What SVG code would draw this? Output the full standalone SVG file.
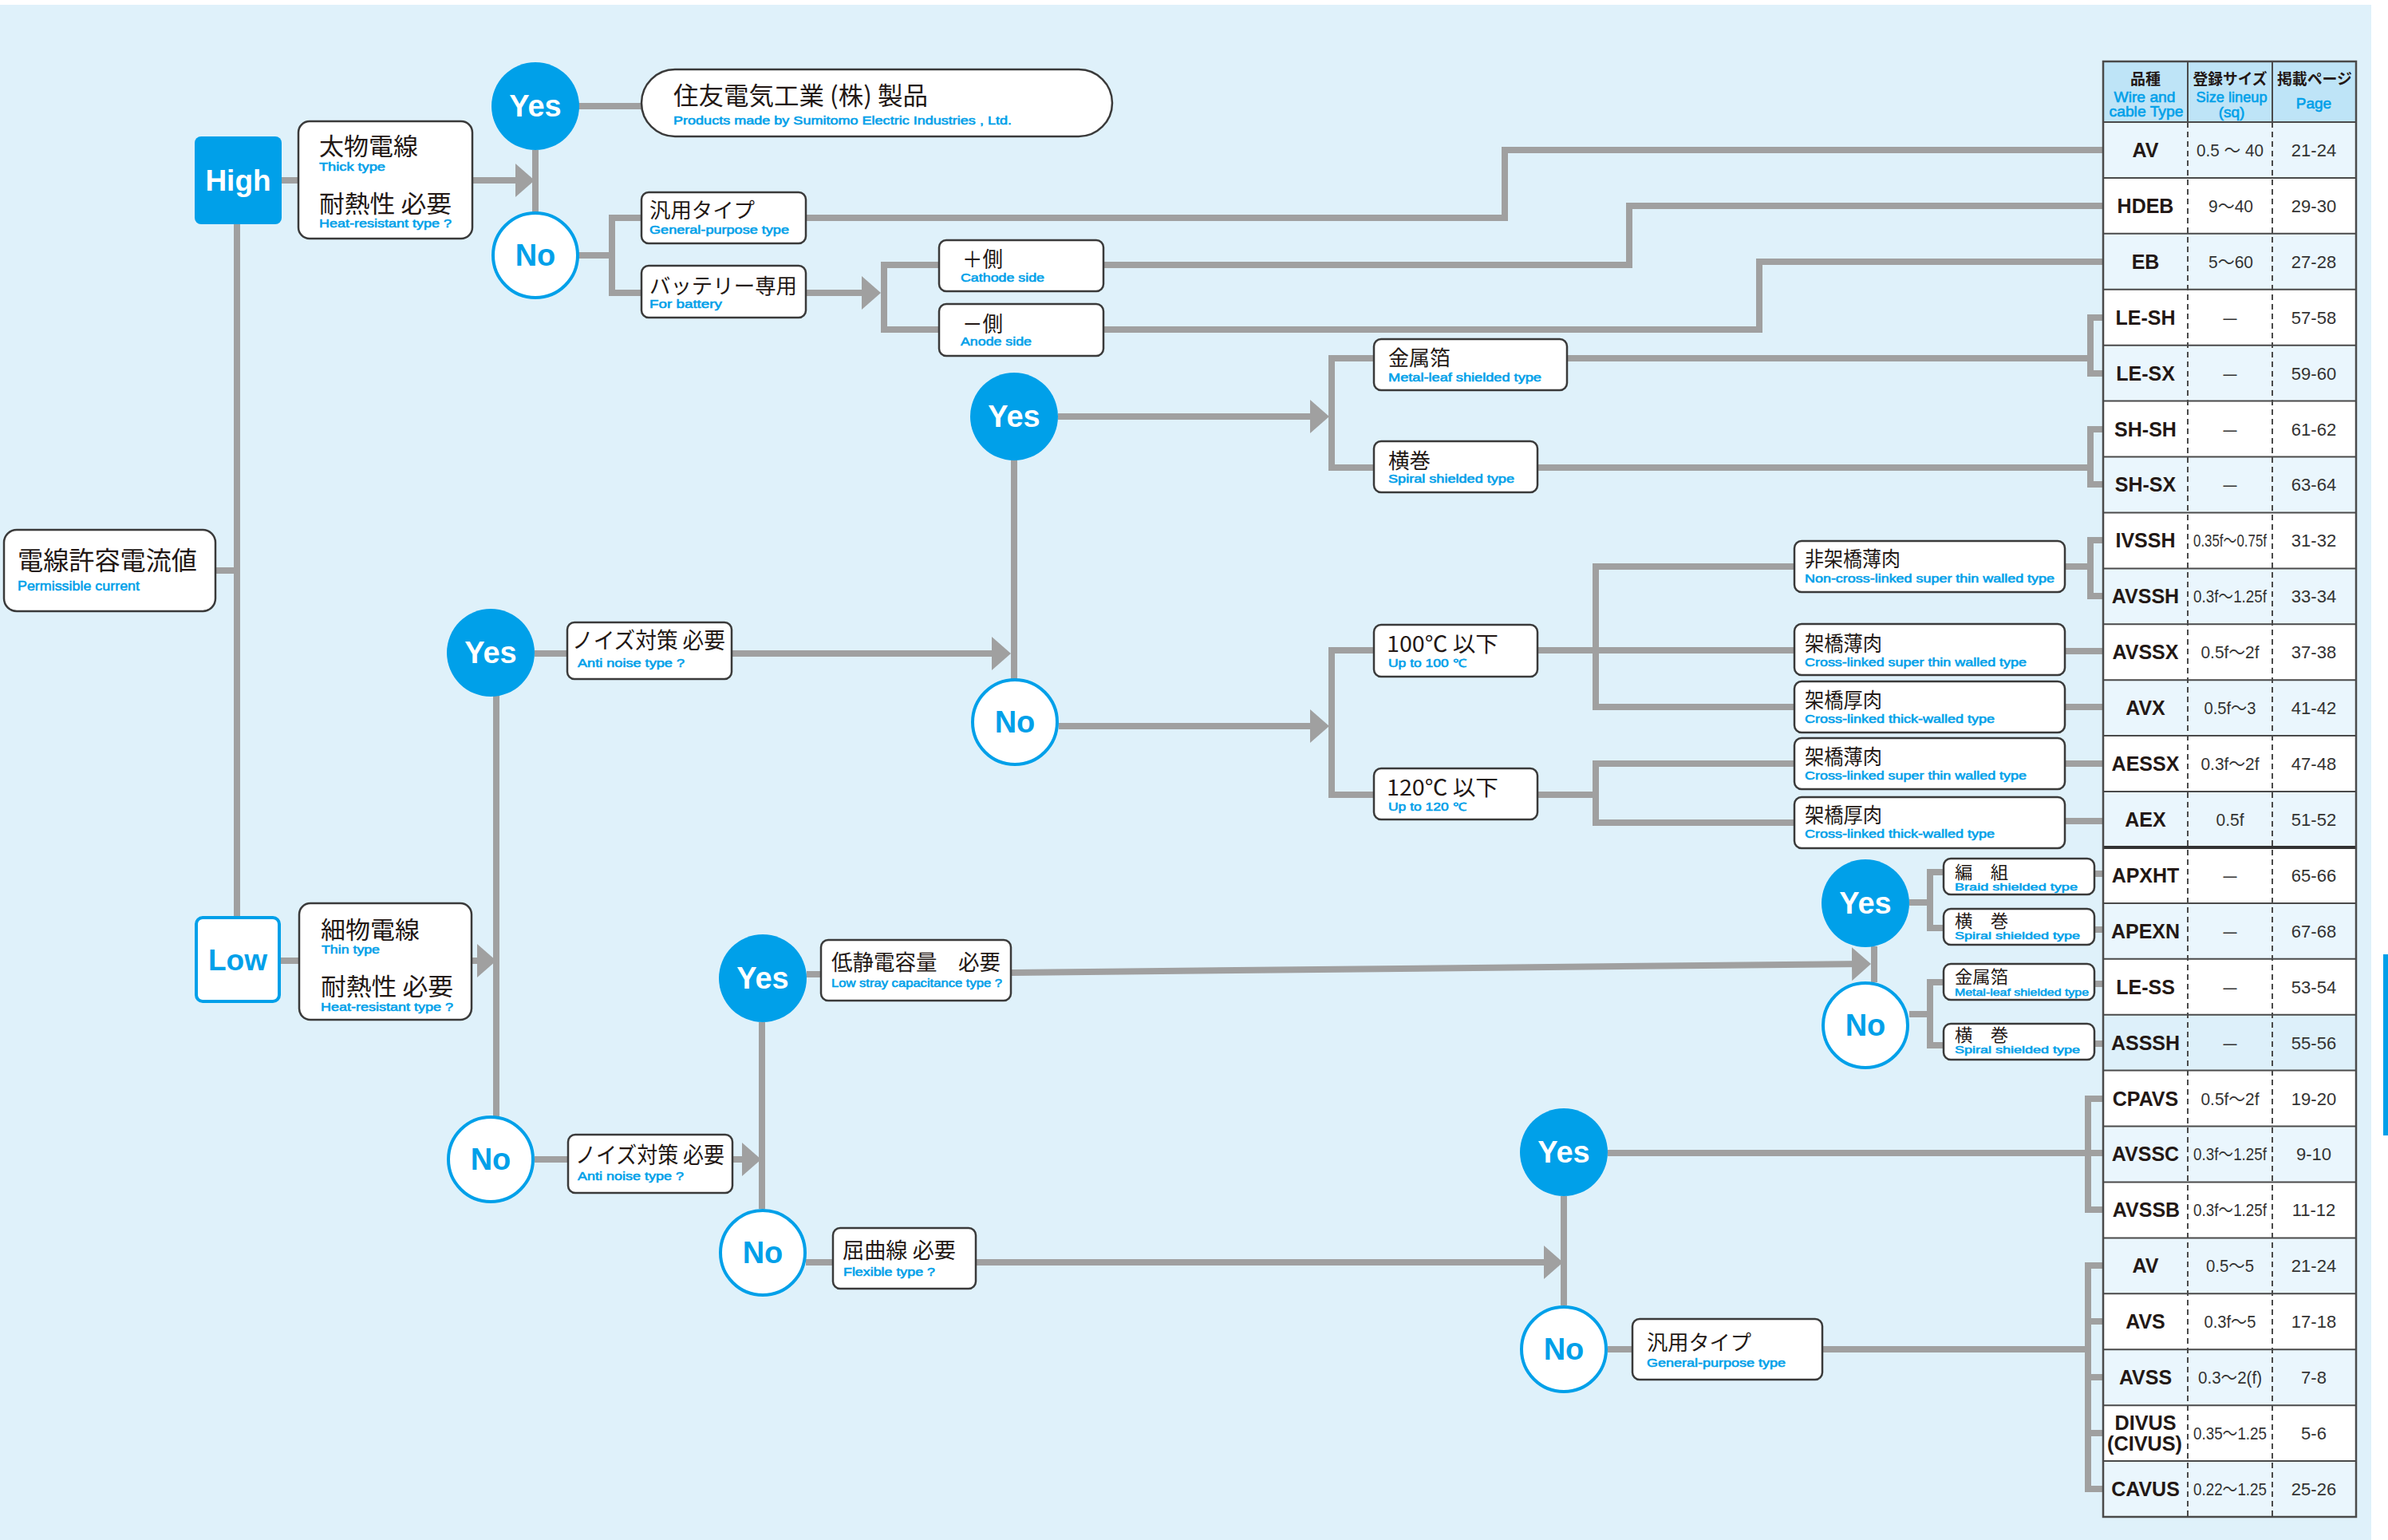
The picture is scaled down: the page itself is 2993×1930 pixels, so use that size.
<svg xmlns="http://www.w3.org/2000/svg" width="2993" height="1930" viewBox="0 0 2993 1930">
<defs>
<style>
.c{fill:none;stroke:#A0A0A0;stroke-width:8}
.box{fill:#fff;stroke:#3a3a3a;stroke-width:2.5}
.jp{font-family:"Noto Sans CJK JP","Noto Sans CJK SC",sans-serif;fill:#231815}
.en{font-family:"Liberation Sans",Arial,sans-serif;fill:#00A0E9;stroke:#00A0E9;stroke-width:0.55}
.yes{fill:#00A0E9}
.no{fill:#fff;stroke:#00A0E9;stroke-width:4}
.yt{font-family:"Liberation Sans",Arial,sans-serif;font-weight:bold;font-size:38px;fill:#fff;text-anchor:middle}
.nt{font-family:"Liberation Sans",Arial,sans-serif;font-weight:bold;font-size:38px;fill:#00A0E9;text-anchor:middle}
.tl{font-family:"Liberation Sans",Arial,sans-serif;font-weight:bold;font-size:25px;fill:#231815;text-anchor:middle}
.tv{font-family:"Liberation Sans","Noto Sans CJK JP",sans-serif;font-size:22px;fill:#333;text-anchor:middle}
.hj{font-family:"Noto Sans CJK JP",sans-serif;font-weight:bold;font-size:19px;fill:#231815;text-anchor:middle}
.he{font-family:"Liberation Sans",Arial,sans-serif;font-size:19px;fill:#00A0E9;stroke:#00A0E9;stroke-width:0.6;text-anchor:middle}
.rl{fill:#EAF6FD}
.rw{fill:#fff}
.hl{stroke:#4a4a4a;stroke-width:2}
.dl{stroke:#4a4a4a;stroke-width:2;stroke-dasharray:7 5}
</style>
<marker id="ah" markerUnits="userSpaceOnUse" markerWidth="24" markerHeight="42" refX="14" refY="21" orient="auto"><path d="M0,0 L24,21 L0,42 z" fill="#A0A0A0"/></marker>
</defs>
<rect x="0" y="0" width="2993" height="1930" fill="#fff"/>
<rect x="0" y="6" width="2972" height="1924" fill="#DFF1FA"/>
<rect x="2987" y="1196" width="6" height="227" fill="#00A0E9"/>

<g id="connectors">
<path class="c" d="M270,715 H297 M297,281 V1148 M353,226 H374"/>
<path class="c" d="M592,226 H660" marker-end="url(#ah)"/>
<path class="c" d="M671,188 V266 M725,133 H804 M725,320 H767 M804,273 H767 V367 H804"/>
<path class="c" d="M1010,273 H1886 V188 H2636"/>
<path class="c" d="M1010,367 H1094" marker-end="url(#ah)"/>
<path class="c" d="M1177,332 H1108 V413 H1177"/>
<path class="c" d="M1383,332 H2042 V258 H2636"/>
<path class="c" d="M1383,413 H2205 V328 H2636"/>
<path class="c" d="M352,1204 H375"/>
<path class="c" d="M591,1204 H612" marker-end="url(#ah)"/>
<path class="c" d="M622,872 V1399 M670,819 H711"/>
<path class="c" d="M917,819 H1257" marker-end="url(#ah)"/>
<path class="c" d="M1271,576 V851"/>
<path class="c" d="M1326,522 H1656" marker-end="url(#ah)"/>
<path class="c" d="M1722,449 H1669 V586 H1722"/>
<path class="c" d="M1964,449 H2620 M2636,398 H2620 V468 H2636"/>
<path class="c" d="M1927,586 H2620 M2636,538 H2620 V607 H2636"/>
<path class="c" d="M1327,910 H1656" marker-end="url(#ah)"/>
<path class="c" d="M1722,815 H1669 V996 H1722"/>
<path class="c" d="M1927,815 H2249 M2249,710 H2000 V886 H2249"/>
<path class="c" d="M1927,996 H2000 M2249,957 H2000 V1031 H2249"/>
<path class="c" d="M2588,710 H2620 M2636,677 H2620 V747 H2636"/>
<path class="c" d="M2588,816 H2636 M2588,886 H2636 M2588,957 H2636 M2588,1029 H2636"/>
<path class="c" d="M670,1453 H712"/>
<path class="c" d="M918,1453 H944" marker-end="url(#ah)"/>
<path class="c" d="M955,1281 V1515 M1011,1221 H1029"/>
<path class="c" d="M1267,1219 L2335,1208" marker-end="url(#ah)"/>
<path class="c" d="M2349,1186 V1231"/>
<path class="c" d="M2393,1131 H2419 M2436,1093 H2419 V1163 H2436 M2625,1095 H2636 M2625,1165 H2636"/>
<path class="c" d="M2393,1271 H2419 M2436,1231 H2419 V1310 H2436 M2625,1233 H2636 M2625,1308 H2636"/>
<path class="c" d="M1010,1582 H1044"/>
<path class="c" d="M1223,1582 H1949" marker-end="url(#ah)"/>
<path class="c" d="M1960,1499 V1636"/>
<path class="c" d="M2015,1445 H2636 M2636,1377 H2617 V1516 H2636"/>
<path class="c" d="M2015,1691 H2046 M2284,1691 H2617 M2636,1586 H2617 V1866 H2636 M2617,1656 H2636 M2617,1726 H2636 M2617,1796 H2636"/>
</g>

<g id="n-current">
<rect class="box" x="5" y="664" width="265" height="102" rx="16"/>
<text class="jp" x="22" y="714" font-size="32" textLength="225" lengthAdjust="spacingAndGlyphs">電線許容電流値</text>
<text class="en" x="22" y="740" font-size="17" textLength="153" lengthAdjust="spacingAndGlyphs">Permissible current</text>
</g>

<g id="n-high">
<rect x="244" y="171" width="109" height="110" rx="8" fill="#00A0E9"/>
<text x="298.5" y="239" font-family="Liberation Sans,Arial,sans-serif" font-weight="bold" font-size="37" fill="#fff" text-anchor="middle">High</text>
</g>

<g id="n-thick">
<rect x="374" y="152" width="218" height="147" rx="14" fill="#fff"/>
<path d="M388,152 H578 Q592,152 592,166 V226 H374 V166 Q374,152 388,152 Z" fill="#D4ECFA"/>
<rect class="box" x="374" y="152" width="218" height="147" rx="14" fill="none"/>
<text class="jp" x="400" y="194" font-size="30" textLength="124" lengthAdjust="spacingAndGlyphs">太物電線</text>
<text class="en" x="400" y="214" font-size="14" textLength="83" lengthAdjust="spacingAndGlyphs">Thick type</text>
<text class="jp" x="400" y="266" font-size="30" textLength="166" lengthAdjust="spacingAndGlyphs">耐熱性 必要</text>
<text class="en" x="400" y="285" font-size="14" textLength="166" lengthAdjust="spacingAndGlyphs">Heat-resistant type ?</text>
</g>

<g id="n-yes1"><circle class="yes" cx="671" cy="133" r="55"/><text class="yt" x="671" y="146">Yes</text></g>
<g id="n-no1"><circle class="no" cx="671" cy="320" r="53"/><text class="nt" x="671" y="333">No</text></g>

<g id="n-sumitomo">
<rect class="box" x="804" y="87" width="590" height="84" rx="42"/>
<text class="jp" x="844" y="131" font-size="31" textLength="319" lengthAdjust="spacingAndGlyphs">住友電気工業 (株) 製品</text>
<text class="en" x="844" y="156" font-size="14" textLength="424" lengthAdjust="spacingAndGlyphs">Products made by Sumitomo Electric Industries , Ltd.</text>
</g>

<g id="n-general1">
<rect class="box" x="804" y="241" width="206" height="64" rx="9"/>
<text class="jp" x="814" y="273" font-size="26" textLength="132" lengthAdjust="spacingAndGlyphs">汎用タイプ</text>
<text class="en" x="814" y="293" font-size="14" textLength="175" lengthAdjust="spacingAndGlyphs">General-purpose type</text>
</g>
<g id="n-battery">
<rect class="box" x="804" y="333" width="206" height="65" rx="9"/>
<text class="jp" x="814" y="368" font-size="26" textLength="185" lengthAdjust="spacingAndGlyphs">バッテリー専用</text>
<text class="en" x="814" y="386" font-size="14" textLength="91" lengthAdjust="spacingAndGlyphs">For battery</text>
</g>
<g id="n-cathode">
<rect class="box" x="1177" y="301" width="206" height="64" rx="9"/>
<text class="jp" x="1206" y="335" font-size="27" textLength="51" lengthAdjust="spacingAndGlyphs">＋側</text>
<text class="en" x="1204" y="353" font-size="14" textLength="105" lengthAdjust="spacingAndGlyphs">Cathode side</text>
</g>
<g id="n-anode">
<rect class="box" x="1177" y="381" width="206" height="65" rx="9"/>
<text class="jp" x="1206" y="416" font-size="27" textLength="51" lengthAdjust="spacingAndGlyphs">－側</text>
<text class="en" x="1204" y="433" font-size="14" textLength="89" lengthAdjust="spacingAndGlyphs">Anode side</text>
</g>

<g id="n-low">
<rect x="246" y="1150" width="104" height="105" rx="8" fill="#fff" stroke="#00A0E9" stroke-width="4"/>
<text x="298" y="1216" font-family="Liberation Sans,Arial,sans-serif" font-weight="bold" font-size="37" fill="#00A0E9" text-anchor="middle">Low</text>
</g>
<g id="n-thin">
<rect x="375" y="1132" width="216" height="146" rx="14" fill="#fff"/>
<path d="M389,1132 H577 Q591,1132 591,1146 V1206 H375 V1146 Q375,1132 389,1132 Z" fill="#D4ECFA"/>
<rect class="box" x="375" y="1132" width="216" height="146" rx="14" fill="none"/>
<text class="jp" x="402" y="1176" font-size="30" textLength="124" lengthAdjust="spacingAndGlyphs">細物電線</text>
<text class="en" x="403" y="1195" font-size="14" textLength="73" lengthAdjust="spacingAndGlyphs">Thin type</text>
<text class="jp" x="402" y="1247" font-size="30" textLength="166" lengthAdjust="spacingAndGlyphs">耐熱性 必要</text>
<text class="en" x="402" y="1267" font-size="14" textLength="166" lengthAdjust="spacingAndGlyphs">Heat-resistant type ?</text>
</g>

<g id="n-yes2"><circle class="yes" cx="615" cy="818" r="55"/><text class="yt" x="615" y="831">Yes</text></g>
<g id="n-no2"><circle class="no" cx="615" cy="1453" r="53"/><text class="nt" x="615" y="1466">No</text></g>

<g id="n-noise1">
<rect class="box" x="711" y="780" width="206" height="71" rx="9"/>
<text class="jp" x="717" y="813" font-size="28" textLength="192" lengthAdjust="spacingAndGlyphs">ノイズ対策 必要</text>
<text class="en" x="724" y="836" font-size="14" textLength="134" lengthAdjust="spacingAndGlyphs">Anti noise type ?</text>
</g>

<g id="n-yes3"><circle class="yes" cx="1271" cy="522" r="55"/><text class="yt" x="1271" y="535">Yes</text></g>
<g id="n-no3"><circle class="no" cx="1272" cy="905" r="53"/><text class="nt" x="1272" y="918">No</text></g>

<g id="n-metal1">
<rect class="box" x="1722" y="425" width="242" height="64" rx="9"/>
<text class="jp" x="1740" y="458" font-size="26" textLength="78" lengthAdjust="spacingAndGlyphs">金属箔</text>
<text class="en" x="1740" y="478" font-size="14" textLength="192" lengthAdjust="spacingAndGlyphs">Metal-leaf shielded type</text>
</g>
<g id="n-spiral1">
<rect class="box" x="1722" y="553" width="205" height="64" rx="9"/>
<text class="jp" x="1740" y="587" font-size="26" textLength="53" lengthAdjust="spacingAndGlyphs">横巻</text>
<text class="en" x="1740" y="605" font-size="14" textLength="158" lengthAdjust="spacingAndGlyphs">Spiral shielded type</text>
</g>
<g id="n-100">
<rect class="box" x="1722" y="783" width="205" height="65" rx="9"/>
<text class="jp" x="1738" y="817" font-size="27" textLength="140" lengthAdjust="spacingAndGlyphs">100℃ 以下</text>
<text class="en" x="1740" y="836" font-size="14" textLength="98" lengthAdjust="spacingAndGlyphs">Up to 100 ℃</text>
</g>
<g id="n-120">
<rect class="box" x="1722" y="963" width="205" height="64" rx="9"/>
<text class="jp" x="1738" y="997" font-size="27" textLength="140" lengthAdjust="spacingAndGlyphs">120℃ 以下</text>
<text class="en" x="1740" y="1016" font-size="14" textLength="98" lengthAdjust="spacingAndGlyphs">Up to 120 ℃</text>
</g>
<g id="n-noncross">
<rect class="box" x="2249" y="678" width="339" height="64" rx="9"/>
<text class="jp" x="2262" y="710" font-size="26" textLength="120" lengthAdjust="spacingAndGlyphs">非架橋薄肉</text>
<text class="en" x="2262" y="730" font-size="14" textLength="313" lengthAdjust="spacingAndGlyphs">Non-cross-linked super thin walled type</text>
</g>
<g id="n-cross-thin100">
<rect class="box" x="2249" y="782" width="339" height="64" rx="9"/>
<text class="jp" x="2262" y="816" font-size="26" textLength="97" lengthAdjust="spacingAndGlyphs">架橋薄肉</text>
<text class="en" x="2262" y="835" font-size="14" textLength="278" lengthAdjust="spacingAndGlyphs">Cross-linked super thin walled type</text>
</g>
<g id="n-cross-thick100">
<rect class="box" x="2249" y="854" width="339" height="64" rx="9"/>
<text class="jp" x="2262" y="887" font-size="26" textLength="97" lengthAdjust="spacingAndGlyphs">架橋厚肉</text>
<text class="en" x="2262" y="906" font-size="14" textLength="238" lengthAdjust="spacingAndGlyphs">Cross-linked thick-walled type</text>
</g>
<g id="n-cross-thin120">
<rect class="box" x="2249" y="925" width="339" height="64" rx="9"/>
<text class="jp" x="2262" y="958" font-size="26" textLength="97" lengthAdjust="spacingAndGlyphs">架橋薄肉</text>
<text class="en" x="2262" y="977" font-size="14" textLength="278" lengthAdjust="spacingAndGlyphs">Cross-linked super thin walled type</text>
</g>
<g id="n-cross-thick120">
<rect class="box" x="2249" y="999" width="339" height="64" rx="9"/>
<text class="jp" x="2262" y="1031" font-size="26" textLength="97" lengthAdjust="spacingAndGlyphs">架橋厚肉</text>
<text class="en" x="2262" y="1050" font-size="14" textLength="238" lengthAdjust="spacingAndGlyphs">Cross-linked thick-walled type</text>
</g>

<g id="n-noise2">
<rect class="box" x="712" y="1422" width="206" height="73" rx="9"/>
<text class="jp" x="721" y="1458" font-size="28" textLength="187" lengthAdjust="spacingAndGlyphs">ノイズ対策 必要</text>
<text class="en" x="724" y="1479" font-size="14" textLength="133" lengthAdjust="spacingAndGlyphs">Anti noise type ?</text>
</g>
<g id="n-yes4"><circle class="yes" cx="956" cy="1226" r="55"/><text class="yt" x="956" y="1239">Yes</text></g>
<g id="n-no4"><circle class="no" cx="956" cy="1570" r="53"/><text class="nt" x="956" y="1583">No</text></g>
<g id="n-lowcap">
<rect class="box" x="1029" y="1178" width="238" height="76" rx="9"/>
<text class="jp" x="1042" y="1216" font-size="27" textLength="212" lengthAdjust="spacingAndGlyphs">低静電容量　必要</text>
<text class="en" x="1042" y="1237" font-size="14" textLength="214" lengthAdjust="spacingAndGlyphs">Low stray capacitance type ?</text>
</g>
<g id="n-flex">
<rect class="box" x="1044" y="1539" width="179" height="76" rx="9"/>
<text class="jp" x="1056" y="1577" font-size="27" textLength="142" lengthAdjust="spacingAndGlyphs">屈曲線 必要</text>
<text class="en" x="1057" y="1599" font-size="14" textLength="115" lengthAdjust="spacingAndGlyphs">Flexible type ?</text>
</g>

<g id="n-yes5"><circle class="yes" cx="2338" cy="1132" r="55"/><text class="yt" x="2338" y="1145">Yes</text></g>
<g id="n-no5"><circle class="no" cx="2338" cy="1285" r="53"/><text class="nt" x="2338" y="1298">No</text></g>
<g id="n-braid">
<rect class="box" x="2436" y="1076" width="189" height="45" rx="9"/>
<text class="jp" x="2450" y="1101" font-size="22" textLength="67" lengthAdjust="spacingAndGlyphs">編　組</text>
<text class="en" x="2450" y="1116" font-size="13" textLength="154" lengthAdjust="spacingAndGlyphs">Braid shielded type</text>
</g>
<g id="n-spiral2">
<rect class="box" x="2436" y="1139" width="189" height="45" rx="9"/>
<text class="jp" x="2450" y="1162" font-size="22" textLength="67" lengthAdjust="spacingAndGlyphs">横　巻</text>
<text class="en" x="2450" y="1177" font-size="13" textLength="157" lengthAdjust="spacingAndGlyphs">Spiral shielded type</text>
</g>
<g id="n-metal2">
<rect class="box" x="2436" y="1208" width="189" height="45" rx="9"/>
<text class="jp" x="2450" y="1232" font-size="22" textLength="67" lengthAdjust="spacingAndGlyphs">金属箔</text>
<text class="en" x="2450" y="1248" font-size="13" textLength="168" lengthAdjust="spacingAndGlyphs">Metal-leaf shielded type</text>
</g>
<g id="n-spiral3">
<rect class="box" x="2436" y="1283" width="189" height="45" rx="9"/>
<text class="jp" x="2450" y="1305" font-size="22" textLength="67" lengthAdjust="spacingAndGlyphs">横　巻</text>
<text class="en" x="2450" y="1320" font-size="13" textLength="157" lengthAdjust="spacingAndGlyphs">Spiral shielded type</text>
</g>

<g id="n-yes6"><circle class="yes" cx="1960" cy="1444" r="55"/><text class="yt" x="1960" y="1457">Yes</text></g>
<g id="n-no6"><circle class="no" cx="1960" cy="1691" r="53"/><text class="nt" x="1960" y="1704">No</text></g>
<g id="n-general2">
<rect class="box" x="2046" y="1653" width="238" height="76" rx="9"/>
<text class="jp" x="2064" y="1692" font-size="26" textLength="131" lengthAdjust="spacingAndGlyphs">汎用タイプ</text>
<text class="en" x="2064" y="1713" font-size="14" textLength="174" lengthAdjust="spacingAndGlyphs">General-purpose type</text>
</g>

<g id="table">
<rect x="2636" y="77" width="317" height="76" fill="#BEE4F7"/>
<rect class="rl" x="2636" y="153" width="317" height="69.9"/>
<rect class="rw" x="2636" y="222.9" width="317" height="69.9"/>
<rect class="rl" x="2636" y="292.8" width="317" height="69.9"/>
<rect class="rw" x="2636" y="362.8" width="317" height="69.9"/>
<rect class="rl" x="2636" y="432.7" width="317" height="69.9"/>
<rect class="rw" x="2636" y="502.6" width="317" height="69.9"/>
<rect class="rl" x="2636" y="572.5" width="317" height="69.9"/>
<rect class="rw" x="2636" y="642.4" width="317" height="69.9"/>
<rect class="rl" x="2636" y="712.4" width="317" height="69.9"/>
<rect class="rw" x="2636" y="782.3" width="317" height="69.9"/>
<rect class="rl" x="2636" y="852.2" width="317" height="69.9"/>
<rect class="rw" x="2636" y="922.1" width="317" height="69.9"/>
<rect class="rl" x="2636" y="992" width="317" height="69.9"/>
<rect class="rw" x="2636" y="1062" width="317" height="69.9"/>
<rect class="rl" x="2636" y="1131.9" width="317" height="69.9"/>
<rect class="rw" x="2636" y="1201.8" width="317" height="69.9"/>
<rect x="2636" y="1271.7" width="317" height="69.9" fill="#DDF0FA"/>
<rect class="rw" x="2636" y="1341.6" width="317" height="69.9"/>
<rect class="rl" x="2636" y="1411.6" width="317" height="69.9"/>
<rect class="rw" x="2636" y="1481.5" width="317" height="69.9"/>
<rect class="rl" x="2636" y="1551.4" width="317" height="69.9"/>
<rect class="rw" x="2636" y="1621.3" width="317" height="69.9"/>
<rect class="rl" x="2636" y="1691.2" width="317" height="69.9"/>
<rect class="rw" x="2636" y="1761.2" width="317" height="69.9"/>
<rect class="rl" x="2636" y="1831.1" width="317" height="69.9"/>
<path class="hl" d="M2636,153 H2953 M2636,222.9 H2953 M2636,292.8 H2953 M2636,362.8 H2953 M2636,432.7 H2953 M2636,502.6 H2953 M2636,572.5 H2953 M2636,642.4 H2953 M2636,712.4 H2953 M2636,782.3 H2953 M2636,852.2 H2953 M2636,922.1 H2953 M2636,992 H2953 M2636,1131.9 H2953 M2636,1201.8 H2953 M2636,1271.7 H2953 M2636,1341.6 H2953 M2636,1411.6 H2953 M2636,1481.5 H2953 M2636,1551.4 H2953 M2636,1621.3 H2953 M2636,1691.2 H2953 M2636,1761.2 H2953 M2636,1831.1 H2953"/>
<path d="M2636,1062 H2953" stroke="#333" stroke-width="4"/>
<path class="hl" d="M2742,77 V153 M2848,77 V153"/>
<path class="dl" d="M2742,153 V1901 M2848,153 V1901"/>
<rect x="2636" y="77" width="317" height="1824" fill="none" stroke="#4a4a4a" stroke-width="2.5"/>
<text class="hj" x="2689" y="106">品種</text>
<text class="he" x="2688" y="128" textLength="77" lengthAdjust="spacingAndGlyphs">Wire and</text>
<text class="he" x="2690" y="146" textLength="93" lengthAdjust="spacingAndGlyphs">cable Type</text>
<text class="hj" x="2795" y="106" textLength="93" lengthAdjust="spacingAndGlyphs">登録サイズ</text>
<text class="he" x="2797" y="128" textLength="89" lengthAdjust="spacingAndGlyphs">Size lineup</text>
<text class="he" x="2797" y="147" font-size="11">(sq)</text>
<text class="hj" x="2901" y="106" textLength="94" lengthAdjust="spacingAndGlyphs">掲載ページ</text>
<text class="he" x="2900" y="136" font-size="21">Page</text>

<text class="tl" x="2689" y="197">AV</text>
<text class="tl" x="2689" y="267">HDEB</text>
<text class="tl" x="2689" y="337">EB</text>
<text class="tl" x="2689" y="407">LE-SH</text>
<text class="tl" x="2689" y="477">LE-SX</text>
<text class="tl" x="2689" y="547">SH-SH</text>
<text class="tl" x="2689" y="616">SH-SX</text>
<text class="tl" x="2689" y="686">IVSSH</text>
<text class="tl" x="2689" y="756">AVSSH</text>
<text class="tl" x="2689" y="826">AVSSX</text>
<text class="tl" x="2689" y="896">AVX</text>
<text class="tl" x="2689" y="966">AESSX</text>
<text class="tl" x="2689" y="1036">AEX</text>
<text class="tl" x="2689" y="1106">APXHT</text>
<text class="tl" x="2689" y="1176">APEXN</text>
<text class="tl" x="2689" y="1246">LE-SS</text>
<text class="tl" x="2689" y="1316">ASSSH</text>
<text class="tl" x="2689" y="1386">CPAVS</text>
<text class="tl" x="2689" y="1455">AVSSC</text>
<text class="tl" x="2690" y="1525">AVSSB</text>
<text class="tl" x="2689" y="1595">AV</text>
<text class="tl" x="2689" y="1665">AVS</text>
<text class="tl" x="2689" y="1735">AVSS</text>
<text class="tl" x="2689" y="1792" font-size="24" textLength="77" lengthAdjust="spacingAndGlyphs">DIVUS</text>
<text class="tl" x="2688" y="1818" font-size="24" textLength="94" lengthAdjust="spacingAndGlyphs">(CIVUS)</text>
<text class="tl" x="2689" y="1875">CAVUS</text>

<text class="tv" x="2795" y="196" textLength="84" lengthAdjust="spacingAndGlyphs">0.5 ～ 40</text>
<text class="tv" x="2796" y="266" textLength="56" lengthAdjust="spacingAndGlyphs">9～40</text>
<text class="tv" x="2796" y="336" textLength="56" lengthAdjust="spacingAndGlyphs">5～60</text>
<text class="tv" x="2795" y="406" textLength="17" lengthAdjust="spacingAndGlyphs">—</text>
<text class="tv" x="2795" y="476" textLength="17" lengthAdjust="spacingAndGlyphs">—</text>
<text class="tv" x="2795" y="546" textLength="17" lengthAdjust="spacingAndGlyphs">—</text>
<text class="tv" x="2795" y="615" textLength="17" lengthAdjust="spacingAndGlyphs">—</text>
<text class="tv" x="2795" y="685" textLength="92" lengthAdjust="spacingAndGlyphs">0.35f～0.75f</text>
<text class="tv" x="2795" y="755" textLength="92" lengthAdjust="spacingAndGlyphs">0.3f～1.25f</text>
<text class="tv" x="2795" y="825" textLength="73" lengthAdjust="spacingAndGlyphs">0.5f～2f</text>
<text class="tv" x="2795" y="895" textLength="65" lengthAdjust="spacingAndGlyphs">0.5f～3</text>
<text class="tv" x="2795" y="965" textLength="73" lengthAdjust="spacingAndGlyphs">0.3f～2f</text>
<text class="tv" x="2795" y="1035" textLength="35" lengthAdjust="spacingAndGlyphs">0.5f</text>
<text class="tv" x="2795" y="1105" textLength="17" lengthAdjust="spacingAndGlyphs">—</text>
<text class="tv" x="2795" y="1175" textLength="17" lengthAdjust="spacingAndGlyphs">—</text>
<text class="tv" x="2795" y="1245" textLength="17" lengthAdjust="spacingAndGlyphs">—</text>
<text class="tv" x="2795" y="1315" textLength="17" lengthAdjust="spacingAndGlyphs">—</text>
<text class="tv" x="2795" y="1385" textLength="73" lengthAdjust="spacingAndGlyphs">0.5f～2f</text>
<text class="tv" x="2795" y="1454" textLength="92" lengthAdjust="spacingAndGlyphs">0.3f～1.25f</text>
<text class="tv" x="2795" y="1524" textLength="92" lengthAdjust="spacingAndGlyphs">0.3f～1.25f</text>
<text class="tv" x="2795" y="1594" textLength="60" lengthAdjust="spacingAndGlyphs">0.5～5</text>
<text class="tv" x="2795" y="1664" textLength="65" lengthAdjust="spacingAndGlyphs">0.3f～5</text>
<text class="tv" x="2795" y="1734" textLength="80" lengthAdjust="spacingAndGlyphs">0.3～2(f)</text>
<text class="tv" x="2795" y="1804" textLength="92" lengthAdjust="spacingAndGlyphs">0.35～1.25</text>
<text class="tv" x="2795" y="1874" textLength="92" lengthAdjust="spacingAndGlyphs">0.22～1.25</text>

<text class="tv" x="2900" y="196">21-24</text>
<text class="tv" x="2900" y="266">29-30</text>
<text class="tv" x="2900" y="336">27-28</text>
<text class="tv" x="2900" y="406">57-58</text>
<text class="tv" x="2900" y="476">59-60</text>
<text class="tv" x="2900" y="546">61-62</text>
<text class="tv" x="2900" y="615">63-64</text>
<text class="tv" x="2900" y="685">31-32</text>
<text class="tv" x="2900" y="755">33-34</text>
<text class="tv" x="2900" y="825">37-38</text>
<text class="tv" x="2900" y="895">41-42</text>
<text class="tv" x="2900" y="965">47-48</text>
<text class="tv" x="2900" y="1035">51-52</text>
<text class="tv" x="2900" y="1105">65-66</text>
<text class="tv" x="2900" y="1175">67-68</text>
<text class="tv" x="2900" y="1245">53-54</text>
<text class="tv" x="2900" y="1315">55-56</text>
<text class="tv" x="2900" y="1385">19-20</text>
<text class="tv" x="2900" y="1454">9-10</text>
<text class="tv" x="2900" y="1524">11-12</text>
<text class="tv" x="2900" y="1594">21-24</text>
<text class="tv" x="2900" y="1664">17-18</text>
<text class="tv" x="2900" y="1734">7-8</text>
<text class="tv" x="2900" y="1804">5-6</text>
<text class="tv" x="2900" y="1874">25-26</text>
</g>
</svg>
